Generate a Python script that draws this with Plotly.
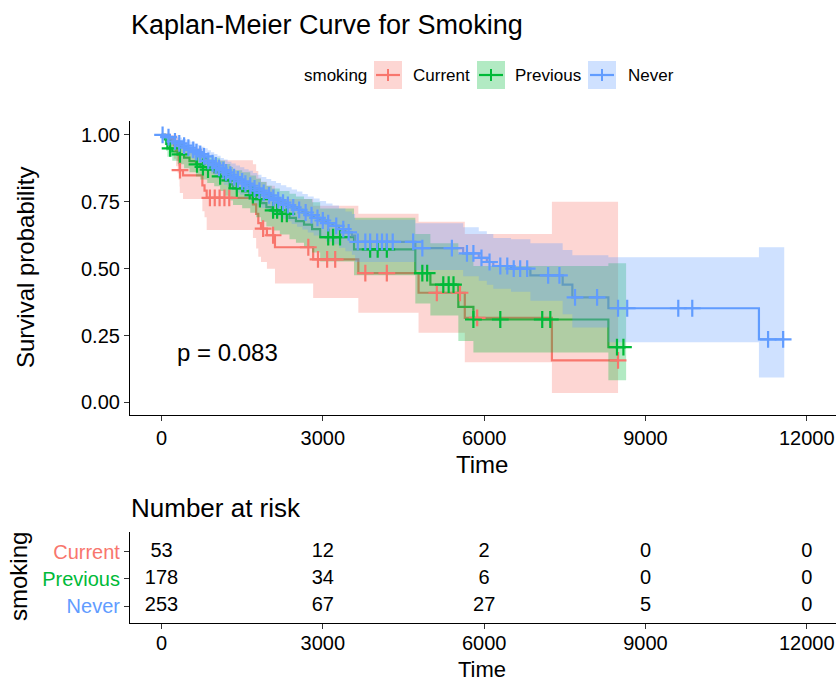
import numpy as np
import plotly.graph_objects as go

W, H = 836, 682
FONT = "Liberation Sans, Arial, Helvetica, sans-serif"

groups = ["Current", "Previous", "Never"]
group_colors = ["#F8766D", "#00BA38", "#619CFF"]

# ---- Kaplan-Meier estimates (step start times, survival, 95% CI) ----
cur_time = [0, 150, 230, 270, 300, 320, 335, 340, 400, 760, 800, 840, 1700, 1760,
            1800, 1850, 1960, 2110, 2820, 3660, 4780, 5640, 7260]
cur_surv = [1.0, .981, .962, .943, .925, .906, .887, .868, .849, .811, .792, .765,
            .740, .705, .670, .650, .625, .580, .535, .483, .410, .316, .157]
cur_lower = [1.0, .945, .911, .883, .857, .832, .807, .783, .760, .715, .692, .645,
             .615, .575, .545, .525, .50, .445, .39, .335, .26, .15, .035]
cur_upper = [1.0, 1.0, 1.0, 1.0, .99, .985, .975, .965, .95, .925, .91, .905,
             .89, .865, .84, .825, .81, .76, .735, .705, .675, .63, .75]
cur_censor = [344, 900, 990, 1080, 1170, 1260, 1890, 2075, 2730, 2910, 3080, 3230,
              3790, 4190, 5120, 5550, 5870, 8490]
cur_end = 8490

prev_time = [0, 60, 90, 110, 200, 300, 420, 520, 640, 720, 850, 980, 1090, 1180,
             1280, 1330, 1500, 1650, 1760, 1850, 1950, 2050, 2200, 2380, 2500, 2650,
             2800, 2950, 3580, 4720, 5000, 5520, 5800, 8310]
prev_surv = [1.0, .983, .966, .950, .938, .927, .915, .902, .890, .880, .870, .860,
             .845, .830, .815, .800, .790, .775, .760, .745, .730, .718, .705, .690,
             .678, .665, .648, .618, .572, .483, .440, .357, .310, .207]
prev_lower = [1.0, .963, .94, .918, .903, .89, .875, .86, .845, .833, .82, .808, .79,
              .773, .755, .738, .726, .709, .692, .675, .658, .643, .628, .61, .597,
              .582, .56, .527, .475, .37, .325, .23, .187, .083]
prev_upper = [1.0, 1.0, .99, .983, .975, .966, .957, .947, .937, .93, .922, .915,
              .903, .891, .88, .868, .86, .848, .836, .824, .81, .80, .79, .78, .77,
              .76, .748, .725, .69, .63, .595, .555, .51, .52]
prev_censor = [160, 344, 660, 770, 865, 1090, 1270, 1400, 1640, 1700, 1830, 2075,
               2150, 2240, 2330, 3100, 3190, 3320, 3880, 4020, 4190, 4850, 4940, 5240,
               5340, 5430, 5800, 6300, 7080, 7230, 8470, 8590]
prev_end = 8640

nev_time = [0, 60, 150, 220, 300, 380, 460, 540, 610, 680, 740, 800, 860, 920, 980,
            1040, 1100, 1160, 1230, 1300, 1380, 1460, 1540, 1620, 1700, 1780, 1860,
            1950, 2040, 2130, 2220, 2320, 2420, 2520, 2620, 2720, 2830, 2940, 3060,
            3180, 3300, 3420, 3540, 3600, 4720, 5610, 5900, 6050, 6170, 6500, 6860,
            7460, 7640, 8310, 11110]
nev_surv = [1.0, .992, .984, .976, .968, .960, .952, .944, .936, .928, .920, .912,
            .903, .894, .886, .877, .868, .860, .851, .842, .834, .826, .818, .810,
            .800, .792, .783, .774, .765, .756, .747, .738, .729, .720, .710, .700,
            .690, .680, .670, .660, .648, .636, .624, .600, .577, .557, .540, .525,
            .510, .500, .475, .440, .393, .352, .236]
nev_lower = [1.0, .981, .968, .956, .946, .935, .925, .915, .905, .895, .886, .876,
             .865, .855, .845, .834, .824, .814, .804, .794, .785, .776, .766, .757,
             .746, .737, .727, .717, .707, .697, .687, .677, .667, .657, .646, .635,
             .624, .613, .602, .591, .578, .565, .552, .525, .495, .472, .455, .44,
             .425, .414, .38, .33, .28, .225, .093]
nev_upper = [1.0, 1.0, .999, .995, .99, .985, .98, .974, .968, .962, .956, .95, .943,
             .935, .929, .922, .914, .908, .900, .893, .886, .879, .872, .866, .858,
             .851, .843, .835, .828, .820, .812, .804, .796, .788, .779, .77, .762,
             .753, .744, .736, .725, .714, .704, .683, .67, .655, .64, .63, .615, .61,
             .595, .57, .55, .543, .58]
nev_censor = [20, 130, 250, 330, 420, 500, 590, 650, 720, 790, 870, 950, 1010, 1070,
              1150, 1200, 1280, 1350, 1420, 1500, 1560, 1650, 1730, 1820, 1900, 2000,
              2080, 2170, 2260, 2350, 2450, 2560, 2680, 2790, 2900, 3000, 3100, 3250,
              3380, 3480, 3650, 3790, 3880, 4010, 4100, 4190, 4300, 4680, 4850, 5400,
              5680, 5800, 5950, 6100, 6300, 6430, 6550, 6670, 6800, 7190, 7400, 7690,
              8100, 8490, 8660, 9610, 9870, 11280, 11560]
nev_end = 11580

p_label = "p = 0.083"
p_pos = (250, 0.188)

# ---- Number at risk ----
risk_times = [0, 3000, 6000, 9000, 12000]
risk_current = [53, 12, 2, 0, 0]
risk_previous = [178, 34, 6, 0, 0]
risk_never = [253, 67, 27, 5, 0]

time_tick_labels = ["0", "3000", "6000", "9000", "12000"]
surv_ticks = [0, 0.25, 0.5, 0.75, 1.0]


def px(x):
    return x / W


def py(y):
    return 1 - y / H


def rgba(hex_color, a):
    h = hex_color.lstrip("#")
    r, g, b = int(h[0:2], 16), int(h[2:4], 16), int(h[4:6], 16)
    return f"rgba({r},{g},{b},{a})"


def step_band(t, lo, hi, end):
    edges = list(t) + [end]
    ux, uy, lx, ly = [], [], [], []
    for i in range(len(t)):
        ux += [edges[i], edges[i + 1]]
        uy += [hi[i], hi[i]]
        lx += [edges[i], edges[i + 1]]
        ly += [lo[i], lo[i]]
    return ux + lx[::-1], uy + ly[::-1]


series = [
    ("Current", cur_time, cur_surv, cur_lower, cur_upper, cur_censor, cur_end),
    ("Previous", prev_time, prev_surv, prev_lower, prev_upper, prev_censor, prev_end),
    ("Never", nev_time, nev_surv, nev_lower, nev_upper, nev_censor, nev_end),
]
col = dict(zip(groups, group_colors))

fig = go.Figure()

# survival step curves
for name, t, s, lo, hi, cens, end in series:
    fig.add_trace(go.Scatter(
        x=list(t) + [end], y=list(s) + [s[-1]], mode="lines",
        line=dict(color=col[name], width=2.2, shape="hv"),
        hoverinfo="skip", showlegend=False, xaxis="x", yaxis="y"))

# confidence ribbons (drawn over the curves)
for name, t, s, lo, hi, cens, end in series:
    bx, by = step_band(t, lo, hi, end)
    fig.add_trace(go.Scatter(
        x=bx, y=by, mode="lines", fill="toself",
        fillcolor=rgba(col[name], 0.3), line=dict(width=0),
        hoverinfo="skip", showlegend=False, xaxis="x", yaxis="y"))

# censoring marks
for name, t, s, lo, hi, cens, end in series:
    idx = np.searchsorted(np.array(t), np.array(cens), side="right") - 1
    cy = np.array(s)[idx]
    fig.add_trace(go.Scatter(
        x=cens, y=cy, mode="markers",
        marker=dict(symbol="cross-thin", size=12, color=col[name],
                    line=dict(color=col[name], width=2.2)),
        hoverinfo="skip", showlegend=False, xaxis="x", yaxis="y"))

# risk table numbers
risk_rows = [(3, risk_current), (2, risk_previous), (1, risk_never)]
for row, counts in risk_rows:
    fig.add_trace(go.Scatter(
        x=risk_times, y=[row] * len(risk_times), mode="text",
        text=[str(c) for c in counts],
        textfont=dict(size=20, color="black", family=FONT),
        hoverinfo="skip", showlegend=False, xaxis="x2", yaxis="y2"))

axis_common = dict(
    showline=True, linecolor="black", linewidth=1.1, ticks="outside", ticklen=5,
    tickwidth=1.1, tickcolor="#333333", showgrid=False, zeroline=False,
    tickfont=dict(size=20, color="black", family=FONT),
)

x_range = [-586, 12543]

fig.update_layout(
    width=W, height=H, margin=dict(l=0, r=0, t=0, b=0),
    paper_bgcolor="white", plot_bgcolor="white", showlegend=False,
    font=dict(family=FONT, color="black"),
    xaxis=dict(domain=[px(130), 1], range=x_range, tickvals=risk_times,
               ticktext=time_tick_labels, anchor="y", **axis_common),
    yaxis=dict(domain=[py(415), py(121)], range=[-0.047, 1.052], tickvals=surv_ticks,
               tickformat=".2f", anchor="x", **axis_common),
    xaxis2=dict(domain=[px(130), 1], range=x_range, tickvals=risk_times,
                ticktext=time_tick_labels, anchor="y2", ticklabelstandoff=-3,
                **axis_common),
    yaxis2=dict(domain=[py(622.7), py(532)], range=[0.4, 3.72], tickvals=[3, 2, 1],
                ticktext=[f'<span style="color:{c}">{g}</span>'
                          for g, c in zip(groups, group_colors)],
                anchor="x2", **axis_common),
)

ann = []


def text(s, x, y, size, xanchor="center", angle=0, xref="paper", yref="paper"):
    ann.append(dict(text=s, x=x, y=y, xref=xref, yref=yref, xanchor=xanchor,
                    yanchor="middle", textangle=angle, showarrow=False,
                    font=dict(size=size, color="black", family=FONT)))


text("Kaplan-Meier Curve for Smoking", px(129), py(25), 27, xanchor="left")
text("Survival probability", px(25), py(268), 24, angle=-90)
text("Time", px(482), py(465), 24)
text("Number at risk", px(129), py(508), 26, xanchor="left")
text("smoking", px(18), py(577), 24, angle=-90)
text("Time", px(482), py(669), 22)
text(p_label, p_pos[0], p_pos[1], 24, xanchor="left", xref="x", yref="y")

# legend
text("smoking", px(302), py(75), 17, xanchor="left")
key_left = [374, 477, 588]
label_left = [411, 513, 626]
shapes = []
for g, c, kx, lx in zip(groups, group_colors, key_left, label_left):
    shapes.append(dict(type="rect", xref="paper", yref="paper",
                       x0=px(kx), x1=px(kx + 28), y0=py(89), y1=py(61),
                       fillcolor=rgba(c, 0.3), line=dict(width=0)))
    shapes.append(dict(type="line", xref="paper", yref="paper",
                       x0=px(kx + 2), x1=px(kx + 26), y0=py(75), y1=py(75),
                       line=dict(color=c, width=2.2)))
    shapes.append(dict(type="line", xref="paper", yref="paper",
                       x0=px(kx + 14), x1=px(kx + 14), y0=py(69), y1=py(81),
                       line=dict(color=c, width=2)))
    text(g, px(lx), py(75), 17, xanchor="left")

fig.update_layout(annotations=ann, shapes=shapes)

fig.write_html("out.html")
